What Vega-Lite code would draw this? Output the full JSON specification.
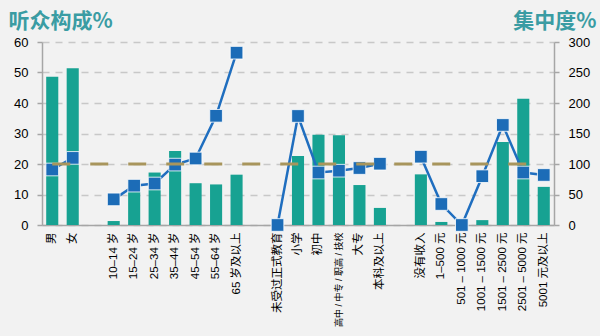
{
  "$schema": "https://vega.github.io/schema/vega-lite/v6.json",
  "autosize": "none",
  "width": 512,
  "height": 183,
  "padding": {"left": 42, "top": 42, "right": 46, "bottom": 111},
  "background": "#f2f2f2",
  "config": {
    "view": {"stroke": null},
    "font": "Liberation Sans, Noto Sans CJK SC",
    "axis": {"labelFont": "Liberation Sans, Noto Sans CJK SC", "labelColor": "#000000", "domainColor": "#a6a6a6", "tickColor": "#a6a6a6", "domainWidth": 1.5, "tickWidth": 1.5}
  },
  "data": {
    "values": [
      {"cat": "男", "grp": "sex", "share": 48.6, "conc": 91},
      {"cat": "女", "grp": "sex", "share": 51.4, "conc": 110},
      {"cat": "10–14 岁", "grp": "age", "share": 1.3, "conc": 42},
      {"cat": "15–24 岁", "grp": "age", "share": 12.6, "conc": 64.5},
      {"cat": "25–34 岁", "grp": "age", "share": 17.2, "conc": 68},
      {"cat": "35–44 岁", "grp": "age", "share": 24.3, "conc": 99},
      {"cat": "45–54 岁", "grp": "age", "share": 13.7, "conc": 109},
      {"cat": "55–64 岁", "grp": "age", "share": 13.3, "conc": 179},
      {"cat": "65 岁及以上", "grp": "age", "share": 16.5, "conc": 282.5},
      {"cat": "未受过正式教育", "grp": "edu", "share": 0.1, "conc": 0},
      {"cat": "小学", "grp": "edu", "share": 22.6, "conc": 178.7},
      {"cat": "初中", "grp": "edu", "share": 29.6, "conc": 86},
      {"cat": "高中 / 中专 / 职高 / 技校", "grp": "edu", "share": 29.4, "conc": 89},
      {"cat": "大专", "grp": "edu", "share": 13.1, "conc": 93.4},
      {"cat": "本科及以上", "grp": "edu", "share": 5.6, "conc": 100.5},
      {"cat": "没有收入", "grp": "inc", "share": 16.6, "conc": 112},
      {"cat": "1–500 元", "grp": "inc", "share": 1.0, "conc": 34.4},
      {"cat": "501 – 1000 元", "grp": "inc", "share": 0.2, "conc": 0},
      {"cat": "1001 – 1500 元", "grp": "inc", "share": 1.6, "conc": 80},
      {"cat": "1501 – 2500 元", "grp": "inc", "share": 27.2, "conc": 164},
      {"cat": "2501 – 5000 元", "grp": "inc", "share": 41.4, "conc": 86},
      {"cat": "5001 元及以上", "grp": "inc", "share": 12.5, "conc": 82}
    ]
  },
  "encoding": {
    "x": {
      "field": "cat",
      "type": "nominal",
      "sort": null,
      "scale": {
        "domain": ["男", "女", " ", "10–14 岁", "15–24 岁", "25–34 岁", "35–44 岁", "45–54 岁", "55–64 岁", "65 岁及以上", "  ", "未受过正式教育", "小学", "初中", "高中 / 中专 / 职高 / 技校", "大专", "本科及以上", "   ", "没有收入", "1–500 元", "501 – 1000 元", "1001 – 1500 元", "1501 – 2500 元", "2501 – 5000 元", "5001 元及以上"],
        "paddingInner": 0.41,
        "paddingOuter": 0.205
      },
      "axis": {
        "title": null,
        "labelAngle": -90,
        "labelFontSize": {"condition": {"test": "indexof(datum.label, '高中') >= 0", "value": 9}, "value": 11.5},
        "ticks": false,
        "labelPadding": 7,
        "grid": false,
        "labelLimit": 0
      }
    }
  },
  "layer": [
    {
      "mark": {"type": "bar", "color": "#17a292"},
      "encoding": {
        "y": {
          "field": "share",
          "type": "quantitative",
          "scale": {"domain": [0, 60]},
          "axis": {
            "title": "听众构成%",
            "titleAngle": 0,
            "titleAlign": "left",
            "titleBaseline": "alphabetic",
            "titleX": -34,
            "titleY": -15,
            "titleFontSize": 21,
            "titleFontWeight": "bold",
            "titleColor": "#3a9ca3",
            "titleFont": "Noto Sans CJK SC",
            "values": [0, 10, 20, 30, 40, 50, 60],
            "labelFontSize": 13,
            "tickSize": 5,
            "labelPadding": 9,
            "grid": true,
            "gridColor": "#c8c8c8",
            "gridDash": [7, 6],
            "gridWidth": 1.5
          }
        }
      }
    },
    {
      "encoding": {
        "y": {
          "field": "conc",
          "type": "quantitative",
          "scale": {"domain": [0, 300]},
          "axis": {
            "orient": "right",
            "title": "集中度%",
            "titleAngle": 0,
            "titleAlign": "right",
            "titleBaseline": "alphabetic",
            "titleX": 42,
            "titleY": -15,
            "titleFontSize": 21,
            "titleFontWeight": "bold",
            "titleColor": "#3a9ca3",
            "titleFont": "Noto Sans CJK SC",
            "values": [0, 50, 100, 150, 200, 250, 300],
            "labelFontSize": 13,
            "labelOverlap": false,
            "tickSize": 5,
            "labelPadding": 9,
            "grid": false
          }
        }
      },
      "layer": [
        {
          "mark": {"type": "line", "color": "#1f6ebf", "strokeWidth": 2.5},
          "encoding": {"detail": {"field": "grp"}}
        },
        {
          "mark": {"type": "point", "shape": "square", "filled": true, "size": 160, "color": "#1c6cb7", "stroke": "#ffffff", "strokeWidth": 0.8, "opacity": 1}
        },
        {
          "data": {"values": [{"conc": 100}]},
          "mark": {"type": "rule", "color": "#a8955c", "strokeWidth": 3, "strokeDash": [18, 20]},
          "encoding": {
            "x": {"datum": "男"},
            "x2": {"datum": "5001 元及以上"}
          }
        }
      ]
    }
  ],
  "resolve": {"scale": {"y": "independent"}}
}
